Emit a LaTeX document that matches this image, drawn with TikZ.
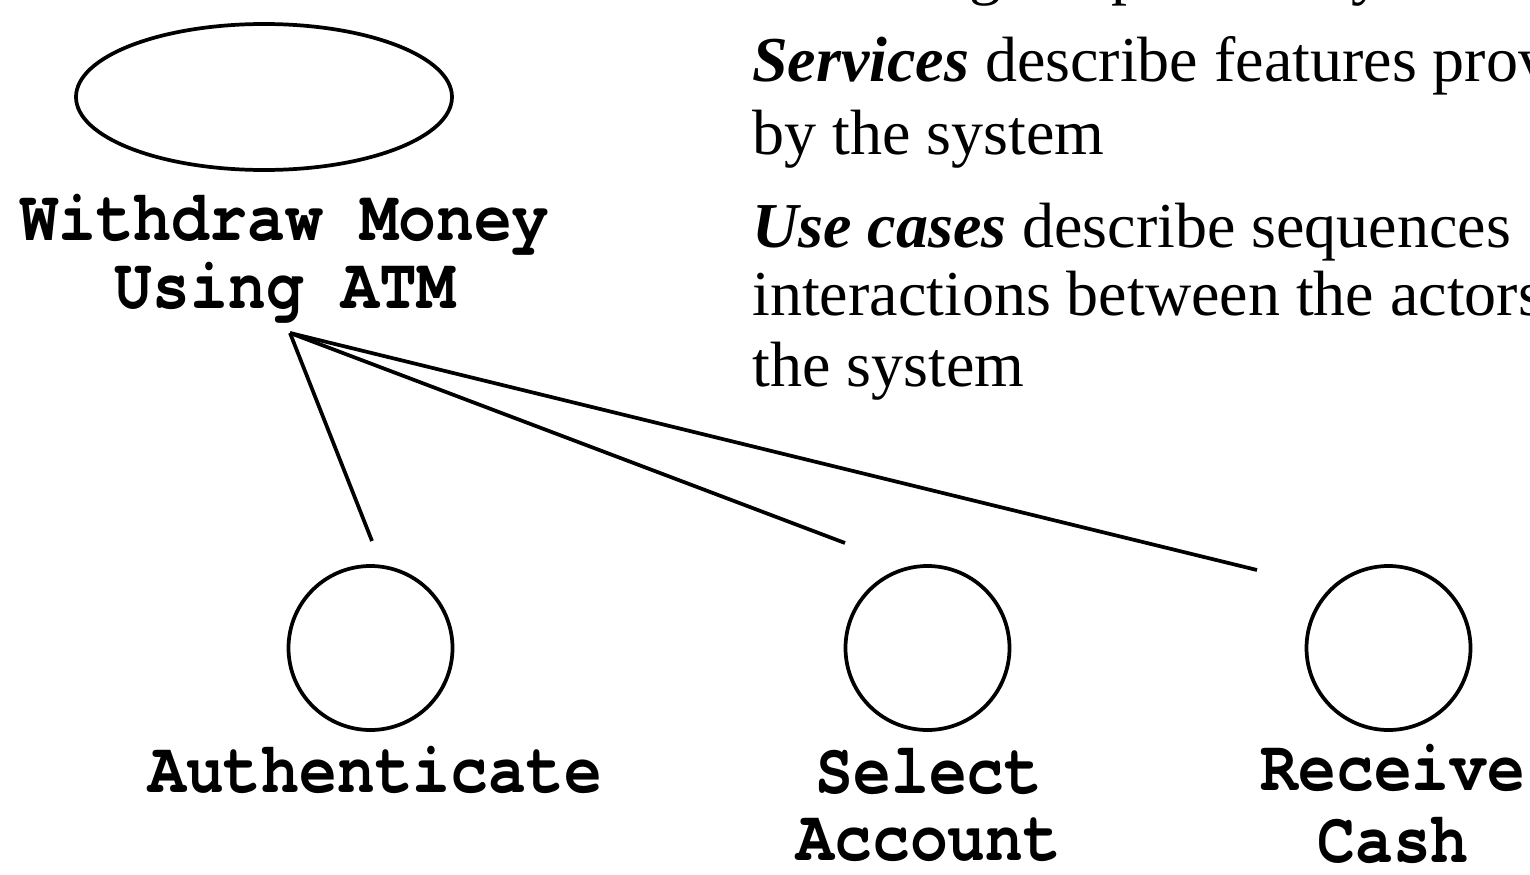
\documentclass[tikz,border=0pt]{standalone}
\usepackage{fontspec}
\setmainfont{Liberation Serif}
\newfontfamily\ucfont{texgyrecursor}[Extension=.otf,UprightFont=*-regular,BoldFont=*-bold]
\usetikzlibrary{shapes.geometric}
\begin{document}
\begin{tikzpicture}[x=0.75pt,y=-0.75pt,
  outline/.style={draw=black,line width=2.8pt,inner sep=0pt},
  ucname/.style={font=\ucfont\bfseries\fontsize{47.25}{51}\selectfont,inner sep=0pt,anchor=base,yscale=1.15},
  prose/.style={font=\fontsize{48}{52}\selectfont,inner sep=0pt,anchor=base west},
  link/.style={draw=black,line width=2.8pt}]
\useasboundingbox (0,0) rectangle (1530,874);
\clip (0,0) rectangle (1530,874);

% main use case
\node[outline,ellipse,minimum width=282pt,minimum height=109.5pt] (main) at (264,97) {};
\node[ucname] (mainA) at (285,240) {Withdraw Money};
\node[ucname] (mainB) at (285,308) {Using ATM};
\coordinate (hub) at (290,333);

% sub use cases
\node[outline,circle,minimum size=123pt] (auth) at (370.5,648) {};
\node[outline,circle,minimum size=123pt] (sel) at (927.5,648) {};
\node[outline,circle,minimum size=123pt] (rcv) at (1388.5,648) {};
\node[ucname] (authL) at (375,792) {Authenticate};
\node[ucname] (selA) at (929,793) {Select};
\node[ucname] (selB) at (929,860) {Account};
\node[ucname] (rcvA) at (1393,790) {Receive};
\node[ucname] (rcvB) at (1393,862) {Cash};

% decomposition links
\coordinate (toAuth) at (372,541);
\coordinate (toSel) at (845,543);
\coordinate (toRcv) at (1257,570);
\draw[link] (hub) -- (toAuth);
\draw[link] (hub) -- (toSel);
\draw[link] (hub) -- (toRcv);

% explanatory text
\node[prose] (t0) at (752,-7) {Modeling the process by};
\node[prose] (t1) at (752,82) {\textbf{\textit{Services}} describe features provided};
\node[prose] (t2) at (752,154) {by the system};
\node[prose] (t3) at (752,247) {\textbf{\textit{Use cases}} describe sequences};
\node[prose] (t4) at (752,315) {interactions between the actors and};
\node[prose] (t5) at (752,386) {the system};
\end{tikzpicture}
\end{document}
